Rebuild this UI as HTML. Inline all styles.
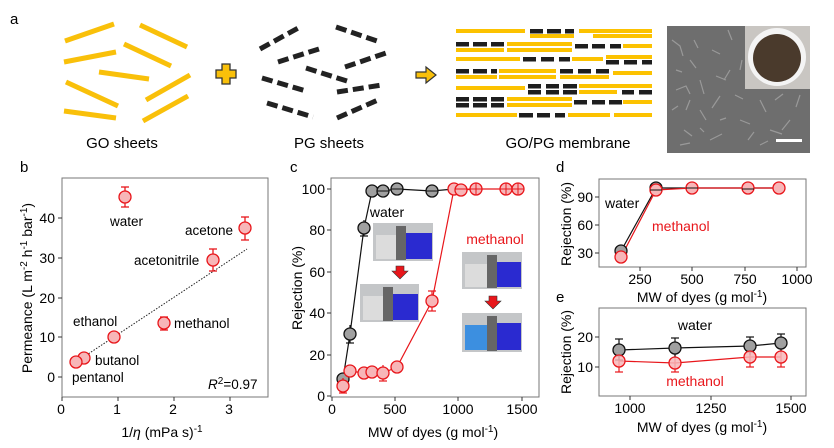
<!DOCTYPE html>
<html><head><meta charset="utf-8"><style>
html,body{margin:0;padding:0;background:#fff}
svg{display:block;font-family:"Liberation Sans",Arial,sans-serif}
</style></head><body>
<svg width="834" height="448" viewBox="0 0 834 448" xmlns="http://www.w3.org/2000/svg">
<rect width="834" height="448" fill="#fff"/>
<!-- Panel a -->
<text x="10" y="24" font-size="15">a</text>
<g stroke="#f9c00a" stroke-width="5" stroke-linecap="butt">
<line x1="65" y1="41" x2="114" y2="24"/><line x1="140" y1="25" x2="187" y2="47"/>
<line x1="64" y1="62" x2="116" y2="52"/><line x1="124" y1="44" x2="171" y2="66"/>
<line x1="99" y1="72" x2="149" y2="79"/><line x1="66" y1="82" x2="118" y2="106"/>
<line x1="146" y1="100" x2="190" y2="75"/><line x1="64" y1="111" x2="116" y2="118"/>
<line x1="143" y1="121" x2="188" y2="96"/>
</g>
<path d="M222 64h8v6h6v8h-6v6h-8v-6h-6v-8h6z" fill="#f9c00a" stroke="#333" stroke-width="1.3"/>
<g stroke="#222" stroke-width="5" stroke-dasharray="11,5">
<line x1="260" y1="49" x2="300" y2="27"/><line x1="336" y1="27" x2="380" y2="42"/>
<line x1="278" y1="62" x2="322" y2="48"/><line x1="345" y1="67" x2="389" y2="52"/>
<line x1="306" y1="68" x2="350" y2="82"/><line x1="262" y1="78" x2="306" y2="91"/>
<line x1="337" y1="92" x2="382" y2="85"/><line x1="267" y1="103" x2="313" y2="117"/>
<line x1="337" y1="118" x2="378" y2="100"/>
</g>
<path d="M416 72h10v-5l10 8-10 8v-5h-10z" fill="#f9c00a" stroke="#333" stroke-width="1.2"/>
<g fill="#fcc200">
<rect x="456" y="29" width="69" height="4"/><rect x="579" y="29" width="73" height="4"/>
<rect x="530" y="34" width="44" height="4"/><rect x="593" y="34" width="59" height="4"/>
<rect x="507" y="42" width="65" height="4"/><rect x="623" y="44" width="29" height="4"/>
<rect x="456" y="48" width="48" height="4"/><rect x="507" y="48" width="65" height="4"/>
<rect x="456" y="57" width="64" height="4"/><rect x="572" y="57" width="31" height="4"/><rect x="606" y="55" width="46" height="4"/>
<rect x="499" y="69" width="57" height="4"/><rect x="613" y="71" width="39" height="4"/>
<rect x="456" y="75" width="41" height="4"/><rect x="499" y="75" width="57" height="4"/><rect x="560" y="75" width="49" height="4"/>
<rect x="456" y="86" width="69" height="4"/><rect x="579" y="84" width="73" height="4"/>
<rect x="579" y="90" width="38" height="4"/>
<rect x="507" y="97" width="65" height="4"/><rect x="623" y="100" width="29" height="4"/>
<rect x="507" y="103" width="65" height="4"/>
<rect x="456" y="113" width="61" height="4"/><rect x="568" y="113" width="42" height="4"/><rect x="614" y="113" width="38" height="4"/>
</g>
<g fill="#1e1e1e">
<rect x="530" y="29" width="13" height="4.5"/><rect x="547" y="29" width="14" height="4.5"/><rect x="565" y="29" width="9" height="4.5"/>
<rect x="456" y="42" width="13" height="4.5"/><rect x="473" y="42" width="14" height="4.5"/><rect x="491" y="42" width="13" height="4.5"/>
<rect x="575" y="44" width="13" height="4.5"/><rect x="592" y="44" width="13" height="4.5"/><rect x="610" y="44" width="11" height="4.5"/>
<rect x="523" y="57" width="13" height="4.5"/><rect x="541" y="57" width="13" height="4.5"/><rect x="559" y="57" width="11" height="4.5"/>
<rect x="606" y="60" width="13" height="4.5"/><rect x="624" y="60" width="13" height="4.5"/><rect x="642" y="60" width="10" height="4.5"/>
<rect x="456" y="69" width="13" height="4.5"/><rect x="473" y="69" width="14" height="4.5"/><rect x="491" y="69" width="6" height="4.5"/>
<rect x="560" y="69" width="13" height="4.5"/><rect x="578" y="69" width="13" height="4.5"/><rect x="596" y="69" width="13" height="4.5"/>
<rect x="528" y="84" width="13" height="4.5"/><rect x="546" y="84" width="13" height="4.5"/><rect x="563" y="84" width="14" height="4.5"/>
<rect x="528" y="90" width="13" height="4.5"/><rect x="546" y="90" width="13" height="4.5"/><rect x="563" y="90" width="14" height="4.5"/>
<rect x="622" y="90" width="12" height="4.5"/><rect x="639" y="90" width="13" height="4.5"/>
<rect x="456" y="97" width="13" height="4.5"/><rect x="473" y="97" width="14" height="4.5"/><rect x="491" y="97" width="13" height="4.5"/>
<rect x="574" y="100" width="13" height="4.5"/><rect x="592" y="100" width="13" height="4.5"/><rect x="609" y="100" width="13" height="4.5"/>
<rect x="456" y="103" width="13" height="4.5"/><rect x="473" y="103" width="14" height="4.5"/><rect x="491" y="103" width="13" height="4.5"/>
<rect x="519" y="113" width="14" height="4.5"/><rect x="537" y="113" width="13" height="4.5"/><rect x="555" y="113" width="10" height="4.5"/>
</g>
<!-- SEM image -->
<rect x="667" y="26" width="143" height="127" fill="#6e6e6e"/>
<g stroke="#a8a8a8" stroke-width="1.2" fill="none" opacity="0.75">
<path d="M672 40l8 6 3 10M690 60l6 8M676 90l10-4 4 8M700 110l6 10M720 96l-8 12M740 120l10 4M760 100l6 12M684 130l8 6M710 140l12-6M730 70l-6 10M790 120l-8 10M676 70l6 2M700 80l4 14M748 140l6-8M770 130l12 4M672 110l6-4M694 40l4 8M712 50l8 4M728 30l4 10M690 100l-4 10M720 120l6-2M735 95l8 4M775 100l8-6M800 95l-4 12M680 145l10-2M700 128l4 4M760 145l8-4M716 76l10 4M742 60l-2 10"/>
</g>
<rect x="745" y="26" width="65" height="63" fill="#c9c6c2"/>
<circle cx="777" cy="57" r="29" fill="#f4f4f4"/>
<circle cx="777" cy="58" r="24" fill="#4a3a2c"/>
<rect x="776" y="139" width="26" height="3" fill="#fff"/>
<text x="122" y="148" font-size="15" text-anchor="middle">GO sheets</text>
<text x="329" y="148" font-size="15" text-anchor="middle">PG sheets</text>
<text x="568" y="148" font-size="15" text-anchor="middle">GO/PG membrane</text>

<!-- Panel b -->
<text x="20" y="172" font-size="15">b</text>
<rect x="62" y="178" width="206" height="219" fill="none" stroke="#777" stroke-width="1"/>
<g stroke="#333" stroke-width="1">
<line x1="62" y1="397" x2="62" y2="401"/><line x1="118" y1="397" x2="118" y2="401"/><line x1="174" y1="397" x2="174" y2="401"/><line x1="230" y1="397" x2="230" y2="401"/>
<line x1="58" y1="377" x2="62" y2="377"/><line x1="58" y1="337" x2="62" y2="337"/><line x1="58" y1="298" x2="62" y2="298"/><line x1="58" y1="258" x2="62" y2="258"/><line x1="58" y1="218" x2="62" y2="218"/>
</g>
<g font-size="14" text-anchor="middle">
<text x="61" y="414">0</text><text x="117" y="414">1</text><text x="173" y="414">2</text><text x="229" y="414">3</text>
</g>
<g font-size="14" text-anchor="end">
<text x="55" y="382">0</text><text x="55" y="342">10</text><text x="55" y="303">20</text><text x="55" y="263">30</text><text x="55" y="223">40</text>
</g>
<text transform="translate(32,288) rotate(-90)" font-size="14" text-anchor="middle">Permeance (L m<tspan dy="-5" font-size="10">-2</tspan><tspan dy="5"> h</tspan><tspan dy="-5" font-size="10">-1</tspan><tspan dy="5"> bar</tspan><tspan dy="-5" font-size="10">-1</tspan><tspan dy="5">)</tspan></text>
<text x="162" y="437" font-size="14" text-anchor="middle">1/<tspan font-style="italic">η</tspan> (mPa s)<tspan dy="-5" font-size="10">-1</tspan></text>
<line x1="76" y1="362" x2="247" y2="249" stroke="#222" stroke-width="1" stroke-dasharray="1.5,1.5"/>
<g stroke="#e8161b" stroke-width="1.3">
<line x1="125" y1="187" x2="125" y2="207"/><line x1="121" y1="187" x2="129" y2="187"/><line x1="121" y1="207" x2="129" y2="207"/>
<line x1="245" y1="217" x2="245" y2="240"/><line x1="241" y1="217" x2="249" y2="217"/><line x1="241" y1="240" x2="249" y2="240"/>
<line x1="213" y1="249" x2="213" y2="271"/><line x1="209" y1="249" x2="217" y2="249"/><line x1="209" y1="271" x2="217" y2="271"/>
<line x1="164" y1="317" x2="164" y2="330"/><line x1="160" y1="317" x2="168" y2="317"/><line x1="160" y1="330" x2="168" y2="330"/>
</g>
<g fill="#f7b6b8" stroke="#e8161b" stroke-width="1.3">
<circle cx="125" cy="197" r="6"/><circle cx="245" cy="228" r="6"/><circle cx="213" cy="260" r="6"/>
<circle cx="164" cy="323" r="6"/><circle cx="114" cy="337" r="6"/><circle cx="84" cy="358" r="6"/><circle cx="76" cy="362" r="6"/>
</g>
<g font-size="13.5">
<text x="110" y="226">water</text><text x="185" y="235">acetone</text><text x="134" y="265">acetonitrile</text>
<text x="174" y="328">methanol</text><text x="73" y="326">ethanol</text><text x="95" y="365">butanol</text><text x="72" y="382">pentanol</text>
<text x="208" y="389" font-size="13.5"><tspan font-style="italic">R</tspan><tspan dy="-5" font-size="10">2</tspan><tspan dy="5">=0.97</tspan></text>
</g>

<!-- Panel c -->
<text x="290" y="172" font-size="15">c</text>
<rect x="331" y="178" width="208" height="219" fill="none" stroke="#777" stroke-width="1"/>
<g stroke="#333" stroke-width="1">
<line x1="332" y1="397" x2="332" y2="401"/><line x1="395" y1="397" x2="395" y2="401"/><line x1="458" y1="397" x2="458" y2="401"/><line x1="522" y1="397" x2="522" y2="401"/>
<line x1="327" y1="396" x2="331" y2="396"/><line x1="327" y1="355" x2="331" y2="355"/><line x1="327" y1="313" x2="331" y2="313"/><line x1="327" y1="272" x2="331" y2="272"/><line x1="327" y1="230" x2="331" y2="230"/><line x1="327" y1="189" x2="331" y2="189"/>
</g>
<g font-size="14" text-anchor="middle">
<text x="332" y="414">0</text><text x="395" y="414">500</text><text x="458" y="414">1000</text><text x="522" y="414">1500</text>
</g>
<g font-size="14" text-anchor="end">
<text x="325" y="401">0</text><text x="325" y="360">20</text><text x="325" y="318">40</text><text x="325" y="277">60</text><text x="325" y="235">80</text><text x="325" y="194">100</text>
</g>
<text transform="translate(302,288) rotate(-90)" font-size="14" text-anchor="middle">Rejection (%)</text>
<text x="433" y="437" font-size="14" text-anchor="middle">MW of dyes (g mol<tspan dy="-5" font-size="10">-1</tspan><tspan dy="5">)</tspan></text>
<!-- photos -->
<g>
<rect x="373" y="223" width="60" height="38" fill="#c4c6c8"/><rect x="405" y="233" width="27" height="26" fill="#2a2ad0"/><rect x="376" y="235" width="24" height="24" fill="#dcdcdc"/><rect x="396" y="226" width="10" height="34" fill="#666"/>
<rect x="360" y="284" width="59" height="38" fill="#c4c6c8"/><rect x="391" y="294" width="27" height="26" fill="#2a2ad0"/><rect x="363" y="296" width="24" height="24" fill="#dcdcdc"/><rect x="383" y="287" width="10" height="34" fill="#666"/>
<rect x="462" y="252" width="60" height="37" fill="#c4c6c8"/><rect x="494" y="262" width="27" height="25" fill="#2a2ad0"/><rect x="465" y="264" width="24" height="23" fill="#dcdcdc"/><rect x="487" y="255" width="10" height="33" fill="#666"/>
<rect x="462" y="313" width="60" height="39" fill="#c4c6c8"/><rect x="494" y="323" width="27" height="27" fill="#2a2ad0"/><rect x="465" y="325" width="26" height="25" fill="#3c8fe0"/><rect x="487" y="316" width="10" height="35" fill="#666"/>
<path d="M396 266h8v5h4l-8 8-8-8h4z" fill="#e8161b" stroke="#333" stroke-width="0.6"/>
<path d="M489 296h8v5h4l-8 8-8-8h4z" fill="#e8161b" stroke="#333" stroke-width="0.6"/>
</g>
<text x="387" y="217" font-size="14" text-anchor="middle">water</text>
<text x="495" y="244" font-size="14" text-anchor="middle" fill="#e8161b">methanol</text>
<polyline points="343,379 350,334 364,228 372,191 383,191 397,189 432,191 454,189" fill="none" stroke="#111" stroke-width="1.2"/>
<polyline points="343,386 350,371 364,373 372,372 383,373 397,367 432,301 454,189 461,190 476,189 506,189 518,189" fill="none" stroke="#e8161b" stroke-width="1.2"/>
<g stroke="#111" stroke-width="1.2">
<line x1="364" y1="220" x2="364" y2="236"/><line x1="360" y1="236" x2="368" y2="236"/><line x1="350" y1="325" x2="350" y2="343"/><line x1="346" y1="343" x2="354" y2="343"/>
</g>
<g fill="#a0a0a0" stroke="#111" stroke-width="1.3">
<circle cx="343" cy="379" r="6"/><circle cx="350" cy="334" r="6"/><circle cx="364" cy="228" r="6"/><circle cx="372" cy="191" r="6"/><circle cx="383" cy="191" r="6"/><circle cx="397" cy="189" r="6"/><circle cx="432" cy="191" r="6"/>
</g>
<g stroke="#111" stroke-width="1"><line x1="377" y1="191" x2="389" y2="191"/><line x1="391" y1="189" x2="403" y2="189"/><line x1="426" y1="191" x2="438" y2="191"/></g>
<g stroke="#e8161b" stroke-width="1.2">
<line x1="432" y1="291" x2="432" y2="311"/><line x1="428" y1="291" x2="436" y2="291"/><line x1="428" y1="311" x2="436" y2="311"/>
<line x1="383" y1="365" x2="383" y2="381"/><line x1="379" y1="381" x2="387" y2="381"/><line x1="343" y1="378" x2="343" y2="393"/><line x1="339" y1="393" x2="347" y2="393"/>
</g>
<g fill="#f7b6b8" stroke="#e8161b" stroke-width="1.3">
<circle cx="343" cy="386" r="6"/><circle cx="350" cy="371" r="6"/><circle cx="364" cy="373" r="6"/><circle cx="372" cy="372" r="6"/><circle cx="383" cy="373" r="6"/><circle cx="397" cy="367" r="6"/><circle cx="432" cy="301" r="6"/><circle cx="454" cy="189" r="6"/><circle cx="461" cy="190" r="6"/><circle cx="476" cy="189" r="6"/><circle cx="506" cy="189" r="6"/><circle cx="518" cy="189" r="6"/>
</g>
<g stroke="#e8161b" stroke-width="1"><line x1="476" y1="183" x2="476" y2="195"/><line x1="506" y1="183" x2="506" y2="195"/><line x1="518" y1="183" x2="518" y2="195"/><line x1="455" y1="189" x2="524" y2="189"/></g>

<!-- Panel d -->
<text x="556" y="172" font-size="15">d</text>
<rect x="599" y="179" width="207" height="88" fill="none" stroke="#777" stroke-width="1"/>
<g stroke="#333" stroke-width="1">
<line x1="640" y1="267" x2="640" y2="271"/><line x1="692" y1="267" x2="692" y2="271"/><line x1="745" y1="267" x2="745" y2="271"/><line x1="797" y1="267" x2="797" y2="271"/>
<line x1="595" y1="197" x2="599" y2="197"/><line x1="595" y1="225" x2="599" y2="225"/><line x1="595" y1="253" x2="599" y2="253"/>
</g>
<g font-size="14" text-anchor="middle"><text x="640" y="284">250</text><text x="692" y="284">500</text><text x="745" y="284">750</text><text x="797" y="284">1000</text></g>
<g font-size="14" text-anchor="end"><text x="593" y="202">90</text><text x="593" y="230">60</text><text x="593" y="258">30</text></g>
<text transform="translate(571,224) rotate(-90)" font-size="14" text-anchor="middle">Rejection (%)</text>
<text x="702" y="302" font-size="14" text-anchor="middle">MW of dyes (g mol<tspan dy="-5" font-size="10">-1</tspan><tspan dy="5">)</tspan></text>
<text x="605" y="208" font-size="14">water</text>
<text x="652" y="231" font-size="14" fill="#e8161b">methanol</text>
<polyline points="621,251 656,188 692,188 748,188 779,188" fill="none" stroke="#111" stroke-width="1.2"/>
<polyline points="621,257 656,190 692,188 748,188 779,188" fill="none" stroke="#e8161b" stroke-width="1.2"/>
<g fill="#a0a0a0" stroke="#111" stroke-width="1.3"><circle cx="621" cy="251" r="6"/><circle cx="656" cy="188" r="6"/></g>
<g fill="#f7b6b8" stroke="#e8161b" stroke-width="1.3"><circle cx="621" cy="257" r="6"/><circle cx="656" cy="190" r="6"/><circle cx="692" cy="188" r="6"/><circle cx="748" cy="188" r="6"/><circle cx="779" cy="188" r="6"/></g>
<g stroke="#111" stroke-width="1"><line x1="650" y1="190" x2="662" y2="190"/><line x1="686" y1="188" x2="698" y2="188"/><line x1="742" y1="189" x2="754" y2="189"/></g>

<!-- Panel e -->
<text x="556" y="302" font-size="15">e</text>
<rect x="599" y="308" width="207" height="88" fill="none" stroke="#777" stroke-width="1"/>
<g stroke="#333" stroke-width="1">
<line x1="630" y1="396" x2="630" y2="400"/><line x1="711" y1="396" x2="711" y2="400"/><line x1="791" y1="396" x2="791" y2="400"/>
<line x1="595" y1="337" x2="599" y2="337"/><line x1="595" y1="367" x2="599" y2="367"/>
</g>
<g font-size="14" text-anchor="middle"><text x="630" y="413">1000</text><text x="711" y="413">1250</text><text x="791" y="413">1500</text></g>
<g font-size="14" text-anchor="end"><text x="593" y="342">20</text><text x="593" y="372">10</text></g>
<text transform="translate(571,352) rotate(-90)" font-size="14" text-anchor="middle">Rejection (%)</text>
<text x="702" y="432" font-size="14" text-anchor="middle">MW of dyes (g mol<tspan dy="-5" font-size="10">-1</tspan><tspan dy="5">)</tspan></text>
<text x="695" y="330" font-size="14" text-anchor="middle">water</text>
<text x="695" y="386" font-size="14" text-anchor="middle" fill="#e8161b">methanol</text>
<g stroke="#e8161b" stroke-width="1.2">
<line x1="619" y1="350" x2="619" y2="372"/><line x1="615" y1="372" x2="623" y2="372"/>
<line x1="675" y1="353" x2="675" y2="372"/><line x1="671" y1="372" x2="679" y2="372"/>
<line x1="750" y1="347" x2="750" y2="367"/><line x1="746" y1="367" x2="754" y2="367"/>
<line x1="781" y1="347" x2="781" y2="367"/><line x1="777" y1="367" x2="785" y2="367"/>
</g>
<g stroke="#111" stroke-width="1.2">
<line x1="619" y1="339" x2="619" y2="360"/><line x1="615" y1="339" x2="623" y2="339"/><line x1="615" y1="360" x2="623" y2="360"/>
<line x1="675" y1="338" x2="675" y2="358"/><line x1="671" y1="338" x2="679" y2="338"/>
<line x1="750" y1="337" x2="750" y2="355"/><line x1="746" y1="337" x2="754" y2="337"/>
<line x1="781" y1="334" x2="781" y2="352"/><line x1="777" y1="334" x2="785" y2="334"/>
</g>
<polyline points="619,350 675,348 750,346 781,343" fill="none" stroke="#111" stroke-width="1.2"/>
<polyline points="619,361 675,363 750,357 781,357" fill="none" stroke="#e8161b" stroke-width="1.2"/>
<g fill="#a0a0a0" stroke="#111" stroke-width="1.3"><circle cx="619" cy="350" r="6"/><circle cx="675" cy="348" r="6"/><circle cx="750" cy="346" r="6"/><circle cx="781" cy="343" r="6"/></g>
<g fill="#f7b6b8" stroke="#e8161b" stroke-width="1.3" fill-opacity="0.85"><circle cx="619" cy="361" r="6"/><circle cx="675" cy="363" r="6"/><circle cx="750" cy="357" r="6"/><circle cx="781" cy="357" r="6"/></g>
</svg>
</body></html>
